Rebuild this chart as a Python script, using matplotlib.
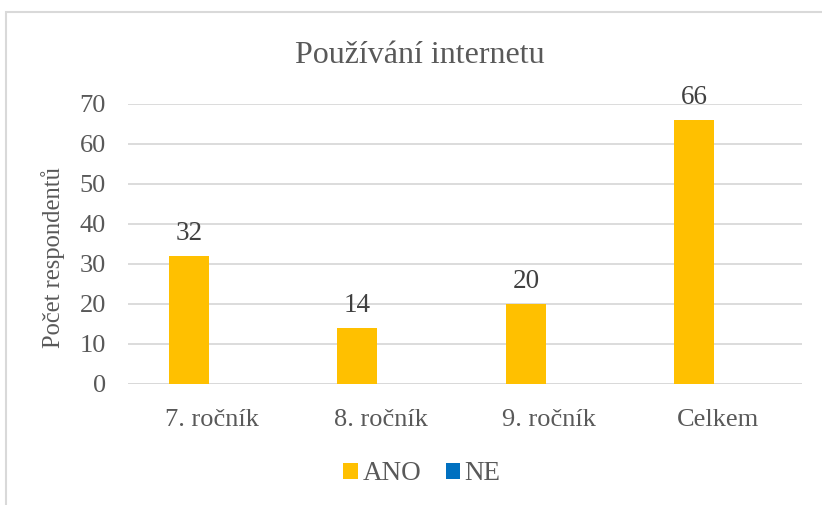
import matplotlib
matplotlib.use("Agg")
import matplotlib.pyplot as plt
import numpy as np
from matplotlib.patches import Rectangle

categories = ["7. ročník", "8. ročník", "9. ročník", "Celkem"]
ano = [32, 14, 20, 66]
ne = [0, 0, 0, 0]
yticks = [0, 10, 20, 30, 40, 50, 60, 70]

plt.rcParams['font.family'] = ['Liberation Serif', 'DejaVu Serif']
text_c = '#595959'
grid_c = '#D9D9D9'

fig = plt.figure(figsize=(8.22, 5.05), dpi=100)
W, H = 822, 505
ax = fig.add_axes([128 / W, (H - 384) / H, (802 - 128) / W, (384 - 104) / H])

x = np.arange(len(categories))
w = 0.237
shift = -0.02
b1 = ax.bar(x - w / 2 + shift, ano, w, color='#FFC000', label='ANO', zorder=3)
b2 = ax.bar(x + w / 2 + shift, ne, w, color='#0070C0', label='NE', zorder=3)

for xi, v in zip(x, ano):
    ax.text(xi - w / 2 + shift, v + 4.1, str(v), ha='center', va='baseline', fontsize=19.5, color='#404040')

ax.set_xlim(-0.5, len(categories) - 0.5)
ax.set_ylim(0, 70)
ax.set_yticks(yticks)
ax.set_xticks(x)
ax.set_xticklabels(categories)
ax.tick_params(axis='both', length=0, labelsize=19, labelcolor=text_c)
ax.tick_params(axis='y', pad=16)
ax.tick_params(axis='x', pad=18)
ax.grid(axis='y', color=grid_c, linewidth=1.3, zorder=0)
for s in ax.spines.values():
    s.set_visible(False)
ax.axhline(0, color=grid_c, linewidth=1.3, zorder=2)

ax.set_ylabel('Počet respondentů', fontsize=17.7, color=text_c)
ax.yaxis.set_label_coords(-(128 - 65) / (802 - 128), 0.45)

fig.text(420 / W, (H - 63) / H, 'Používání internetu', ha='center', va='baseline',
         fontsize=23, color=text_c)

handles = [b1, b2]
leg = fig.legend(handles, ['ANO', 'NE'], loc='center', bbox_to_anchor=(422 / W, (H - 474) / H),
                 ncol=2, frameon=False, fontsize=19.5, handlelength=0.55, handleheight=0.55,
                 handletextpad=0.15, columnspacing=0.9)
for t in leg.get_texts():
    t.set_color(text_c)

fig.patches.append(Rectangle((5.5 / W, -0.05), 1.1, (H - 12) / H + 0.05, transform=fig.transFigure,
                             fill=False, edgecolor=grid_c, linewidth=1.5))

fig.savefig('out.png', dpi=100, facecolor='white')
